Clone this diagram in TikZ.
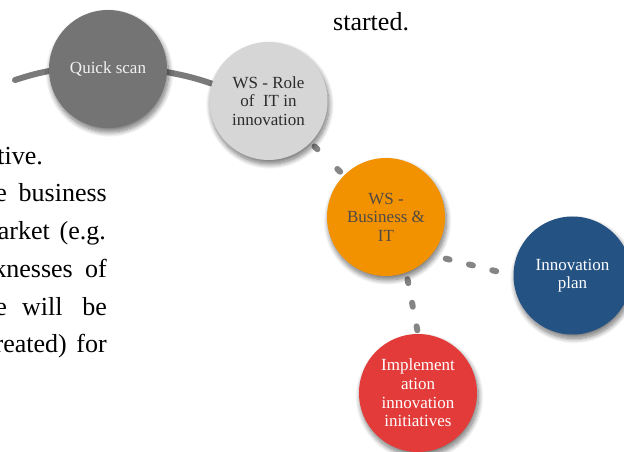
\documentclass[tikz,border=0pt]{standalone}
\usepackage{fontspec}
\setmainfont{Liberation Serif}
\usetikzlibrary{shadows.blur}
\pgfdeclarelayer{bg}
\pgfsetlayers{bg,main}
\definecolor{qsgray}{HTML}{747474}
\definecolor{rolegray}{HTML}{D6D6D6}
\definecolor{bizorange}{HTML}{F29200}
\definecolor{planblue}{HTML}{245283}
\definecolor{implred}{HTML}{E23B3A}
\definecolor{linkgray}{HTML}{7A7A7A}
\definecolor{dashgray}{HTML}{858585}
\definecolor{darktext}{HTML}{2B2B2B}
\definecolor{biztext}{HTML}{4F4A45}
\begin{document}
\begin{tikzpicture}[x=1pt,y=1pt,
  circ/.style={circle, minimum size=118pt, inner sep=0pt, align=center,
    font=\fontsize{17}{18.6}\selectfont,
    blur shadow={shadow xshift=1.5pt, shadow yshift=-4pt, shadow blur radius=5pt,
      shadow blur steps=12, shadow opacity=55}},
  link/.style={line width=6pt, draw=linkgray, line cap=round},
  dlink/.style={line width=6pt, draw=dashgray, line cap=round},
  body/.style={inner sep=0pt, font=\fontsize{26}{30}\selectfont, text=black}
]
\useasboundingbox (0,0) rectangle (624,452);
\clip (0,0) rectangle (624,452);

% body text (clipped paragraph)
\node[body, anchor=base west] (started) at (333,421) {started.};
\node[body, anchor=base east] (l1) at (43,287) {tive.};
\node[body, anchor=base east] (l2a) at (7,250) {e};
\node[body, anchor=base east] (l2b) at (107,250) {business};
\node[body, anchor=base east] (l3a) at (50,212) {arket};
\node[body, anchor=base east] (l3b) at (106,212) {(e.g.};
\node[body, anchor=base east] (l4a) at (73,174) {knesses};
\node[body, anchor=base east] (l4b) at (107,174) {of};
\node[body, anchor=base east] (l5a) at (7,136) {e};
\node[body, anchor=base west] (l5b) at (22,136) {will};
\node[body, anchor=base east] (l5c) at (107,136) {be};
\node[body, anchor=base east] (l6a) at (67,99) {reated)};
\node[body, anchor=base east] (l6b) at (107,99) {for};

% circles
\node[circ, fill=qsgray, text=white!95!black] (qs) at (108,383) {Quick scan};
\node[circ, fill=rolegray, text=darktext] (role) at (268.5,351) {WS - Role\\of~ IT in\\innovation};
\node[circ, fill=bizorange, text=biztext] (biz) at (386,235) {WS -\\Business \&\\IT};
\node[circ, fill=planblue, text=white] (plan) at (572.5,176.5) {Innovation\\plan};
\node[circ, fill=implred, text=white] (impl) at (418,59) {Implement\\ation\\innovation\\initiatives};

\coordinate (start) at (15,372);

\begin{pgfonlayer}{bg}
  \draw[link] (start) to[out=17.5, in=191] (qs.182);
  \draw[link] (qs.-3) to[out=-11, in=161] (role.163);
  \draw[dlink, dash pattern=on 4pt off 28pt, dash phase=26.5pt] (role) -- (biz);
  \draw[dlink, dash pattern=on 4pt off 20pt, dash phase=9.2pt] (biz.-40) -- (plan.180);
  \draw[dlink, dash pattern=on 4pt off 20pt, dash phase=17.3pt] (biz.-70) -- (impl.90);
\end{pgfonlayer}
\end{tikzpicture}
\end{document}
